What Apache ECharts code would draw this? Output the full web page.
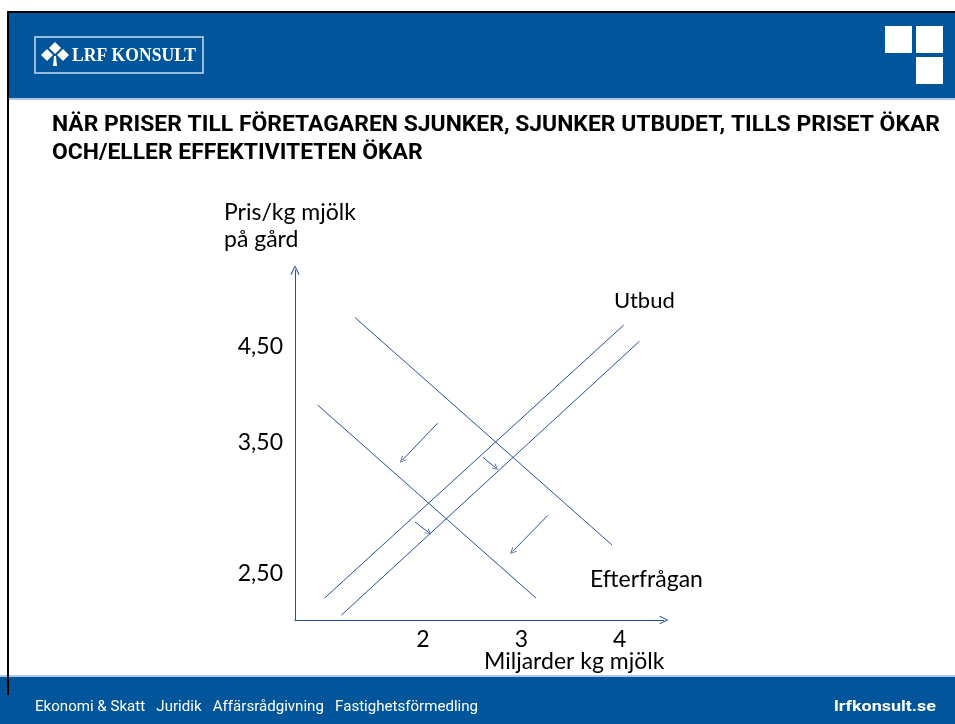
<!DOCTYPE html>
<html>
<head>
<meta charset="utf-8">
<script src="https://cdn.jsdelivr.net/npm/echarts@6.0.0/dist/echarts.min.js"></script>
<style>
    html, body { margin: 0; padding: 0; background: #fff; }
    #main { width: 955px; height: 724px; }
</style>
</head>
<body>
<div id="main"></div>
<script>
    // rubrik och texter
    var titleLines = ['NÄR PRISER TILL FÖRETAGAREN SJUNKER, SJUNKER UTBUDET, TILLS PRISET ÖKAR', 'OCH/ELLER EFFEKTIVITETEN ÖKAR'];
    var yName = ['Pris/kg mjölk', 'på gård'];
    var xName = 'Miljarder kg mjölk';
    var footerItems = ['Ekonomi & Skatt', 'Juridik', 'Affärsrådgivning', 'Fastighetsförmedling'];

    // axlar
    var xTickValues = [2, 3, 4];
    var xTickLabels = ['2', '3', '4'];
    var yTickValues = [4.5, 3.5, 2.12];
    var yTickLabels = ['4,50', '3,50', '2,50'];

    // kurvor (x = miljarder kg, y = pris)
    var supplyA = [[1.00, 1.86], [4.04, 4.73]];
    var supplyB = [[1.17, 1.68], [4.20, 4.56]];
    var demandA = [[1.31, 4.81], [3.92, 2.42]];
    var demandB = [[0.93, 3.89], [3.15, 1.86]];
    // pilar
    var shiftArrows = [[[2.15, 3.70], [1.79, 3.31]], [[3.27, 2.73], [2.91, 2.35]]];
    var smallArrows = [[[2.61, 3.34], [2.74, 3.23]], [[1.92, 2.66], [2.06, 2.55]]];

    var blue = '#27509c';
    var headerBlue = '#00559b';
    var chevron = 'path://M10,0L20,10L17.5,10L10,2.5L2.5,10L0,10Z';
    var axisArrow = 'path://M5,0L10,10L8.8,10.4L5,2.2L1.2,10.4L0,10Z';
    var txtFont = 'Lato';
    var titleFont = 'bold 22px Roboto';
    var footFont = '14px Roboto';

    // skala texten i x-led så att den får samma bredd som i förlagan
    var ctx = document.createElement('canvas').getContext('2d');
    function fitScale(text, font, width) {
        ctx.font = font;
        return width / ctx.measureText(text).width;
    }
    var titleScale = fitScale(titleLines[0], titleFont, 888);
    var footText = footerItems.join('   ');
    var footScale = fitScale(footText, footFont, 443);
    var siteScale = fitScale('lrfkonsult.se', 'bold 15px Roboto', 102);
    var logoScale = fitScale('LRF KONSULT', 'bold 18px "Liberation Serif"', 124);

    var myChart = echarts.init(document.getElementById('main'));

    function lineSeries(name, lines, symbolSize) {
        return {
            name: name,
            type: 'lines',
            coordinateSystem: 'cartesian2d',
            symbol: symbolSize ? ['none', chevron] : 'none',
            symbolSize: symbolSize || 0,
            lineStyle: { color: blue, width: 1, opacity: 1 },
            silent: true,
            data: lines.map(function (c) { return { coords: c }; })
        };
    }

    function diamond(cx, cy, r) {
        return { type: 'polygon', shape: { points: [[cx, cy - r], [cx + r, cy], [cx, cy + r], [cx - r, cy]] }, style: { fill: '#fff' } };
    }

    function label(x, y, text, size) {
        return { type: 'text', x: x, y: y, style: { text: text, font: size + 'px ' + txtFont, fill: '#000', verticalAlign: 'middle' } };
    }

    var graphics = [
        // ram och band
        { type: 'rect', shape: { x: 9, y: 13, width: 946, height: 85 }, style: { fill: headerBlue } },
        { type: 'rect', shape: { x: 9, y: 98, width: 946, height: 2 }, style: { fill: '#a9c8e8' } },
        { type: 'rect', shape: { x: 0, y: 675, width: 955, height: 2 }, style: { fill: '#a9c8e8' } },
        { type: 'rect', shape: { x: 0, y: 677, width: 955, height: 47 }, style: { fill: headerBlue } },
        { type: 'rect', shape: { x: 7, y: 11, width: 948, height: 2 }, style: { fill: '#000' } },
        { type: 'rect', shape: { x: 7, y: 11, width: 2, height: 684 }, style: { fill: '#000' } },
        // logga
        { type: 'rect', shape: { x: 35, y: 37, width: 168, height: 36 }, style: { fill: 'none', stroke: '#c9dbef', lineWidth: 1.5 } },
        diamond(55, 48, 6),
        diamond(47, 55, 6),
        diamond(63, 55, 6),
        { type: 'polygon', shape: { points: [[54, 56], [56, 56], [57, 66], [53, 66]] }, style: { fill: '#fff' } },
        { type: 'text', x: 72, y: 56, scaleX: logoScale, style: { text: 'LRF KONSULT', font: 'bold 18px "Liberation Serif"', fill: '#fff', verticalAlign: 'middle' } },
        // rutor uppe till höger
        { type: 'rect', shape: { x: 885, y: 26, width: 27, height: 27 }, style: { fill: '#fff' } },
        { type: 'rect', shape: { x: 916, y: 26, width: 27, height: 27 }, style: { fill: '#fff' } },
        { type: 'rect', shape: { x: 916, y: 57, width: 27, height: 27 }, style: { fill: '#fff' } },
        // rubrik
        { type: 'text', x: 52, y: 125, scaleX: titleScale, style: { text: titleLines[0], font: titleFont, fill: '#000', verticalAlign: 'middle' } },
        { type: 'text', x: 52, y: 153, scaleX: titleScale, style: { text: titleLines[1], font: titleFont, fill: '#000', verticalAlign: 'middle' } },
        // axelnamn och kurvnamn
        label(224, 213, yName[0], 23),
        label(224, 240, yName[1], 23),
        label(484, 662, xName, 23),
        label(614, 301, 'Utbud', 22),
        label(590, 580, 'Efterfrågan', 23),
        // sidfot
        { type: 'text', x: 35, y: 707, scaleX: footScale, style: { text: footText, font: footFont, fill: '#fff', verticalAlign: 'middle' } },
        { type: 'text', x: 834, y: 707, scaleX: siteScale, style: { text: 'lrfkonsult.se', font: 'bold 15px Roboto', fill: '#fff', verticalAlign: 'middle' } }
    ];

    var option = {
        animation: false,
        backgroundColor: '#fff',
        grid: { left: 295, right: 291, top: 270, bottom: 104 },
        xAxis: {
            type: 'value',
            min: 0.7,
            max: 4.45,
            splitLine: { show: false },
            axisTick: { show: false },
            axisLine: { lineStyle: { color: blue, width: 1 }, symbol: ['none', axisArrow], symbolSize: [9, 9] },
            axisLabel: {
                customValues: xTickValues,
                formatter: function (v) { return xTickLabels[xTickValues.indexOf(v)]; },
                color: '#000', fontSize: 23, fontFamily: txtFont, margin: 8
            }
        },
        yAxis: {
            type: 'value',
            min: 1.63,
            max: 5.31,
            splitLine: { show: false },
            axisTick: { show: false },
            axisLine: { lineStyle: { color: blue, width: 1 }, symbol: ['none', axisArrow], symbolSize: [9, 10] },
            axisLabel: {
                customValues: yTickValues,
                formatter: function (v) { return yTickLabels[yTickValues.indexOf(v)]; },
                color: '#000', fontSize: 23, fontFamily: txtFont, margin: 12
            }
        },
        graphic: graphics,
        series: [
            lineSeries('Utbud', [supplyA, supplyB]),
            lineSeries('Efterfrågan', [demandA, demandB]),
            lineSeries('Skift', shiftArrows, [13, 6.5]),
            lineSeries('Effekt', smallArrows, [12, 6])
        ]
    };
    myChart.setOption(option);
</script>
</body>
</html>
